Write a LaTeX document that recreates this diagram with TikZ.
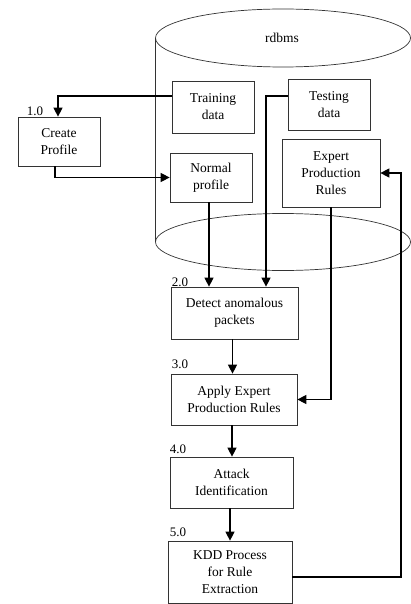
\documentclass[tikz,border=0pt]{standalone}
\usepackage{fontspec}
\setmainfont{Liberation Serif}
\usetikzlibrary{arrows.meta}
\usetikzlibrary{calc}

\tikzset{
 proc/.style={draw=black!80, line width=.7pt, align=center, inner sep=1pt,
   font=\fontsize{13.5}{17}\selectfont},
 flow/.style={black, line width=1.1pt, -{Triangle[length=9pt,width=9pt]}},
 num/.style={inner sep=0pt, font=\fontsize{13}{15}\selectfont},
}

\begin{document}
\begin{tikzpicture}[x=1pt, y=-1pt]
\useasboundingbox (0,0) rectangle (411,604);
\begin{scope}
\clip (0,0) rectangle (411,604);
% database cylinder
\draw[black!80, line width=.7pt] (155,38) -- (155,242);
\draw[black!80, line width=.7pt] (283,38) ellipse [x radius=127.5, y radius=29];
\draw[black!80, line width=.7pt] (283,242) ellipse [x radius=127.5, y radius=28.5];
\end{scope}
\node[num, font=\fontsize{13.5}{17}\selectfont] (db) at (282,38) {rdbms};

% stores inside
\node[proc, minimum width=82pt, minimum height=52pt] (train) at (213,107) {Training\\data};
\node[proc, minimum width=82pt, minimum height=51pt] (test) at (329,104.5) {Testing\\data};
\node[proc, minimum width=82pt, minimum height=49pt] (normal) at (211,177.5) {Normal\\profile};
\node[proc, minimum width=98pt, minimum height=68pt] (rules) at (331,173) {Expert\\Production\\Rules};

% processes
\node[proc, minimum width=82pt, minimum height=49pt] (create) at (59,141.5) {Create\\Profile};
\node[proc, minimum width=127pt, minimum height=52pt] (detect) at (234.5,313) {Detect anomalous\\packets};
\node[proc, minimum width=126pt, minimum height=51pt] (apply) at (234,399.5) {Apply Expert\\Production Rules};
\node[proc, minimum width=123pt, minimum height=51pt] (attack) at (231.5,482.5) {Attack\\Identification};
\node[proc, minimum width=124pt, minimum height=62pt] (kdd) at (230,572) {KDD Process\\for Rule\\Extraction};

% step numbers
\foreach \n/\x/\y [count=\i] in {1.0/35/111, 2.0/180/282, 3.0/180/364, 4.0/178/449, 5.0/178/532}
 \node[num] (step\i) at (\x,\y) {\n};

\coordinate (back) at (401,0);

\draw[flow] ([yshift=11pt]train.west) -| ([xshift=-1pt]create.north);
\draw[flow] ([xshift=-4pt]create.south) |- (normal.west);
\draw[flow] ([yshift=8.5pt]test.west) -| ([xshift=31.5pt]detect.north);
\draw[flow] ([xshift=-2pt]normal.south) -- ([xshift=-2pt]normal.south |- detect.north);
\draw[flow] ([xshift=-2pt]detect.south) -- ([xshift=-2pt]detect.south |- apply.north);
\draw[flow] (rules.south) |- (apply.east);
\draw[flow] ([xshift=-2pt]apply.south) -- ([xshift=-2pt]apply.south |- attack.north);
\draw[flow] ([xshift=-1.5pt]attack.south) -- ([xshift=-1.5pt]attack.south |- kdd.north);
\draw[flow] ([yshift=-5pt]kdd.east) -| (back |- rules.east) -- (rules.east);
\end{tikzpicture}
\end{document}
